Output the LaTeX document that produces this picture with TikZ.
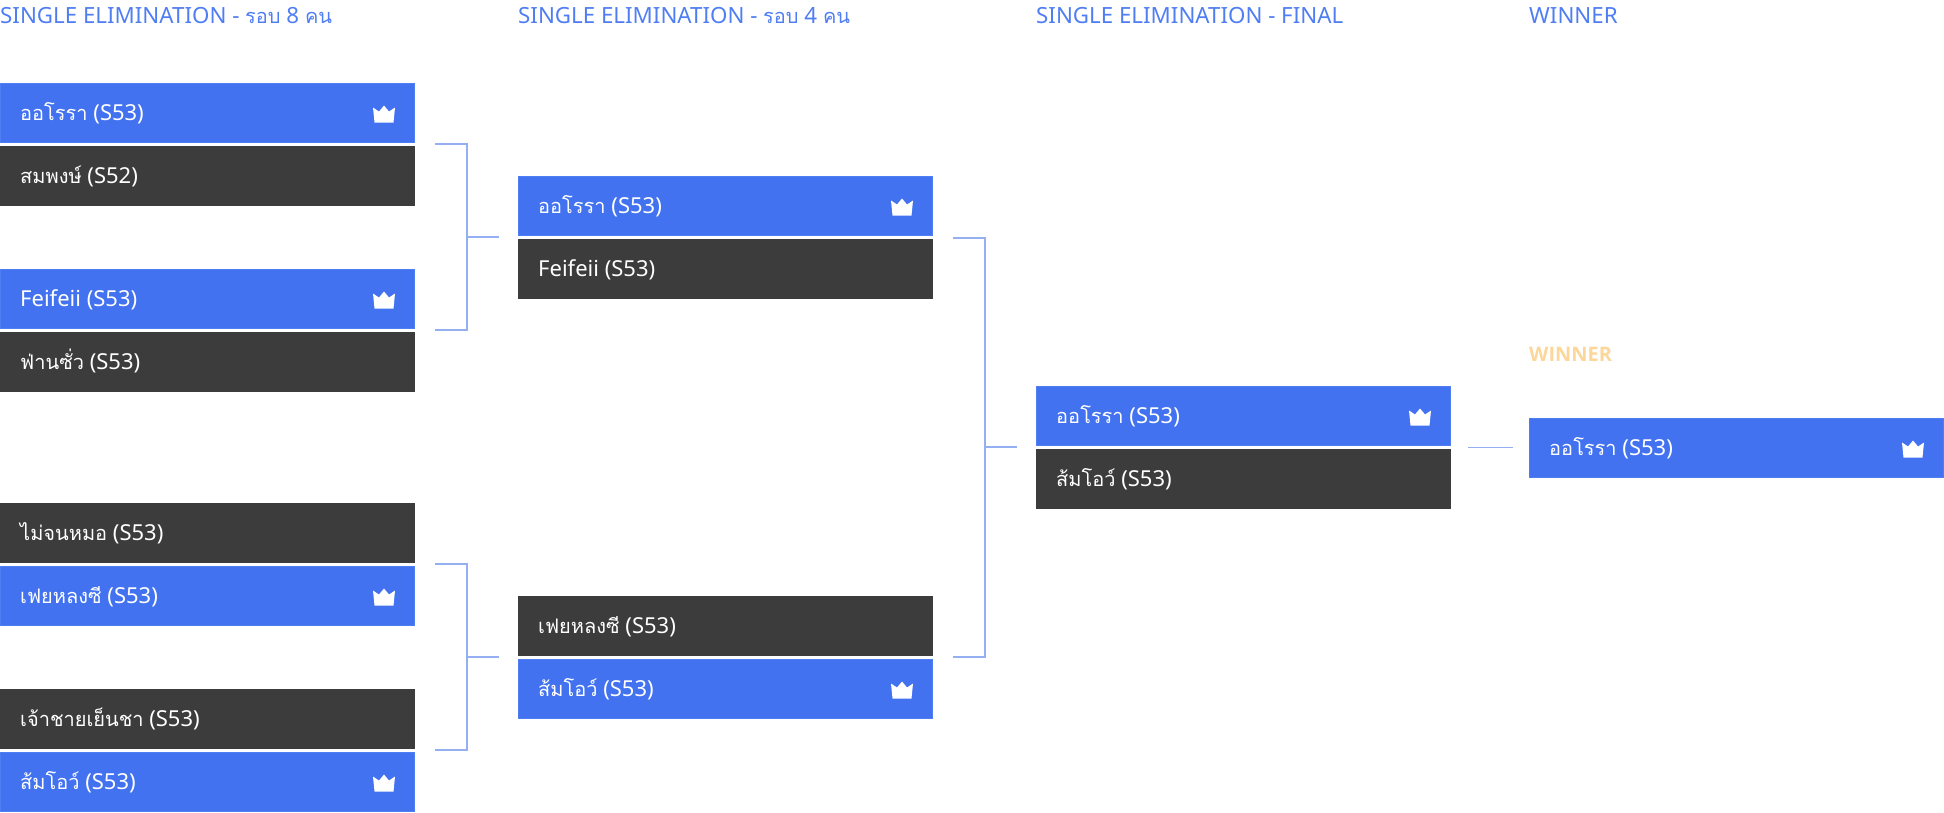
\documentclass[tikz,border=0pt]{standalone}
\usepackage{fontspec}
\setmainfont{Noto Sans}
\newfontfamily\thfont[Script=Thai]{Loma}
\newfontfamily\goldfont{Open Sans}
\newcommand{\tht}[1]{{\thfont\fontsize{20}{24}\selectfont #1}}
\definecolor{winblue}{HTML}{4272F0}
\definecolor{winedge}{HTML}{4F7DF2}
\definecolor{losegray}{HTML}{3C3C3C}
\definecolor{headblue}{HTML}{4F7DF2}
\definecolor{linkblue}{HTML}{94B0F3}
\definecolor{gold}{HTML}{FDD699}
\tikzset{
 x=1pt,y=-1pt,
 playerbox/.style={minimum width=414pt,minimum height=59pt,inner sep=0pt,outer sep=0pt,anchor=north west,line width=1pt,text=white},
 winbox/.style={playerbox,fill=winblue,draw=winedge},
 losebox/.style={playerbox,fill=losegray,draw=losegray},
 playername/.style={anchor=base west,text=white,inner sep=0pt,font=\fontsize{22}{24}\selectfont},
 headlabel/.style={anchor=base west,inner sep=0pt,text=headblue,font=\fontsize{22.3}{24}\selectfont},
 goldlabel/.style={anchor=base west,inner sep=0pt,text=gold,font=\goldfont\bfseries\fontsize{20}{24}\selectfont},
 link/.style={draw=linkblue,line width=1.3pt},
 crownmark/.style={fill=white,draw=none}
}
\newcommand{\crownat}[1]{%
 \fill[crownmark,shift={(#1)}] (-11,-6.5) -- (-5,-2.5) -- (0,-8.5) -- (5,-2.5) -- (11,-6.5) -- (9.5,8.5) -- (-9.5,8.5) -- cycle;}
\newcommand{\player}[6]{% name, style, x, y, text, crown flag
 \node[#2] (#1) at (#3+0.5,#4+0.5) {};
 \node[playername] (#1t) at (#3+20,#4+37.3) {#5};
 \ifx#61\crownat{#3+384,#4+31}\fi
}
\begin{document}
\begin{tikzpicture}
\useasboundingbox (0,0) rectangle (1944,812);
\node[headlabel] (h1) at (0,23) {SINGLE ELIMINATION - \tht{รอบ} 8 \tht{คน}};
\node[headlabel] (h2) at (518,23) {SINGLE ELIMINATION - \tht{รอบ} 4 \tht{คน}};
\node[headlabel] (h3) at (1036,23) {SINGLE ELIMINATION - FINAL};
\node[headlabel] (h4) at (1529,23) {WINNER};
\node[goldlabel] (h5) at (1529,361) {WINNER};
\player{a1}{winbox}{0}{83}{\tht{ออโรรา} (S53)}{1}
\player{a2}{losebox}{0}{146}{\tht{สมพงษ์} (S52)}{0}
\player{a3}{winbox}{0}{269}{Feifeii (S53)}{1}
\player{a4}{losebox}{0}{332}{\tht{ฟ่านซั่ว} (S53)}{0}
\player{a5}{losebox}{0}{503}{\tht{ไม่จนหมอ} (S53)}{0}
\player{a6}{winbox}{0}{566}{\tht{เฟยหลงซี} (S53)}{1}
\player{a7}{losebox}{0}{689}{\tht{เจ้าชายเย็นชา} (S53)}{0}
\player{a8}{winbox}{0}{752}{\tht{ส้มโอว์} (S53)}{1}
\player{b1}{winbox}{518}{176}{\tht{ออโรรา} (S53)}{1}
\player{b2}{losebox}{518}{239}{Feifeii (S53)}{0}
\player{b3}{losebox}{518}{596}{\tht{เฟยหลงซี} (S53)}{0}
\player{b4}{winbox}{518}{659}{\tht{ส้มโอว์} (S53)}{1}
\player{c1}{winbox}{1036}{386}{\tht{ออโรรา} (S53)}{1}
\player{c2}{losebox}{1036}{449}{\tht{ส้มโอว์} (S53)}{0}
\player{d1}{winbox}{1529}{418}{\tht{ออโรรา} (S53)}{1}
\coordinate (s1a) at (435,144); \coordinate (s1b) at (435,330);
\coordinate (s1m) at (467,237); \coordinate (s1e) at (499,237);
\draw[link] (s1a) -| (s1b -| s1m) -- (s1b);
\draw[link] (s1m) -- (s1e);
\coordinate (s2a) at (435,564); \coordinate (s2b) at (435,750);
\coordinate (s2m) at (467,657); \coordinate (s2e) at (499,657);
\draw[link] (s2a) -| (s2b -| s2m) -- (s2b);
\draw[link] (s2m) -- (s2e);
\coordinate (s3a) at (953,238); \coordinate (s3b) at (953,657);
\coordinate (s3m) at (985,447); \coordinate (s3e) at (1017,447);
\draw[link] (s3a) -| (s3b -| s3m) -- (s3b);
\draw[link] (s3m) -- (s3e);
\coordinate (s4a) at (1468,447.5); \coordinate (s4e) at (1513,447.5);
\draw[link] (s4a) -- (s4e);
\end{tikzpicture}
\end{document}
